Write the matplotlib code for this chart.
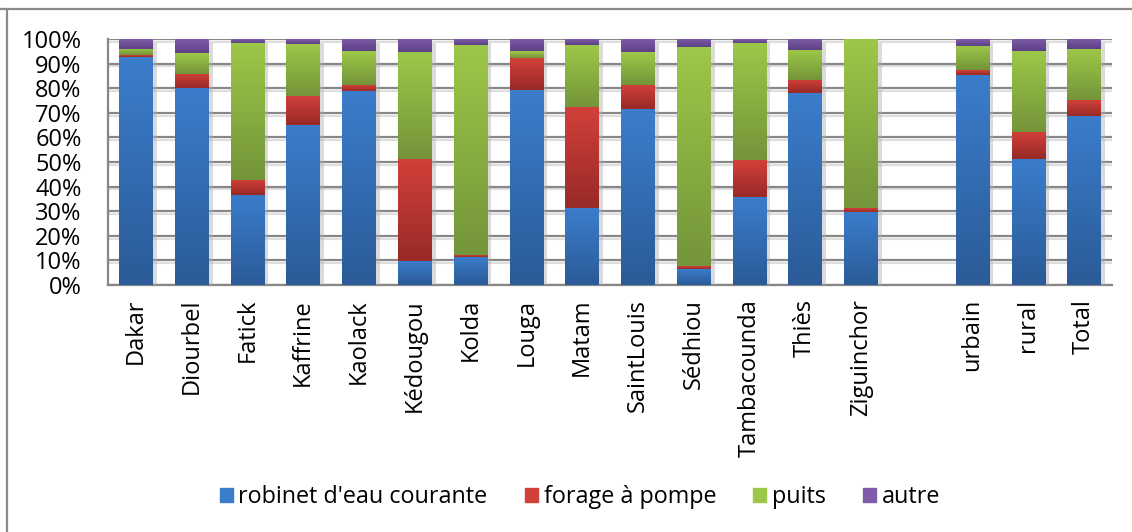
import numpy as np
import matplotlib.pyplot as plt
import matplotlib.patheffects as pe
from matplotlib.colors import LinearSegmentedColormap
from matplotlib.lines import Line2D
from matplotlib.ticker import PercentFormatter

plt.rcParams['font.family'] = ['Open Sans', 'DejaVu Sans']

regions = ["Dakar", "Diourbel", "Fatick", "Kaffrine", "Kaolack", "Kédougou",
           "Kolda", "Louga", "Matam", "SaintLouis", "Sédhiou", "Tambacounda",
           "Thiès", "Ziguinchor"]
groups = ["urbain", "rural", "Total"]

robinet = [92.5, 80.2, 36.6, 65.0, 78.9, 9.8, 11.4, 79.3, 31.3, 71.5, 6.5, 35.8, 78.0, 29.7,
           85.4, 51.2, 68.7]
forage = [0.8, 5.7, 6.1, 11.8, 2.4, 41.4, 0.8, 13.0, 41.1, 9.8, 1.2, 15.0, 5.3, 1.6,
          2.0, 11.0, 6.5]
puits = [2.7, 8.5, 55.8, 21.3, 13.8, 43.5, 85.4, 2.8, 25.2, 13.4, 89.0, 47.6, 12.2, 68.7,
         9.8, 32.9, 20.7]
autre = [4.0, 5.6, 1.5, 1.9, 4.9, 5.3, 2.4, 4.9, 2.4, 5.3, 3.3, 1.6, 4.5, 0.0,
         2.8, 4.9, 4.1]

series = [
    ("robinet d'eau courante", robinet, "#3b7dcb", "#2b5b98"),
    ("forage à pompe", forage, "#d2403a", "#982a27"),
    ("puits", puits, "#9dc748", "#74953a"),
    ("autre", autre, "#7f5caa", "#5d4284"),
]

labels = regions + groups
# one empty slot between the regions and the summary groups
x = np.array(list(range(len(regions))) + [len(regions) + 1 + i for i in range(len(groups))])

fig = plt.figure(figsize=(11.32, 5.32), dpi=100)
ax = fig.add_axes([108 / 1132, 1 - 285 / 532, (1112 - 108) / 1132, (285 - 39) / 532])

bottom = np.zeros(len(x))
handles = []
grad = np.linspace(1, 0, 64).reshape(-1, 1)
for name, vals, top_c, bot_c in series:
    vals = np.array(vals)
    bars = ax.bar(x, vals, 0.6, bottom=bottom, color=top_c, linewidth=0, zorder=3,
                  path_effects=[pe.SimplePatchShadow(offset=(3, -3), shadow_rgbFace="#b0b0b0", alpha=0.45),
                                pe.Normal()])
    cmap = LinearSegmentedColormap.from_list(name, [bot_c, top_c])
    for p in bars.patches:
        if p.get_height() <= 0:
            continue
        im = ax.imshow(grad, cmap=cmap, aspect="auto", zorder=4, interpolation="bilinear",
                       extent=(p.get_x(), p.get_x() + p.get_width(), p.get_y(), p.get_y() + p.get_height()))
        im.set_clip_path(p)
    bottom += vals
    handles.append(plt.Rectangle((0, 0), 1, 1, color=top_c))

ax.set_xlim(-0.5, len(regions) + len(groups) + 0.5)
ax.set_ylim(0, 100)
ax.set_yticks(np.arange(0, 101, 10))
ax.yaxis.set_major_formatter(PercentFormatter(decimals=0))
ax.set_xticks(x)
ax.set_xticklabels(labels, rotation=90, fontsize=17)
ax.tick_params(axis="y", which="major", labelsize=17, length=0, pad=19)
ax.tick_params(axis="x", length=0, pad=10)

ax.yaxis.grid(True, color="#878787", linewidth=1.6, zorder=1)
for gl in ax.get_ygridlines():
    gl.set_path_effects([pe.SimpleLineShadow(offset=(0, -2), shadow_color="#c8c8c8", alpha=0.6), pe.Normal()])
ax.set_axisbelow(True)

for s in ["top", "right"]:
    ax.spines[s].set_visible(False)
ax.spines["left"].set_color("#878787")
ax.spines["left"].set_linewidth(1.6)
ax.spines["bottom"].set_color("#878787")
ax.spines["bottom"].set_linewidth(1.6)

ax.legend(handles, [s[0] for s in series], loc="center", bbox_to_anchor=(580 / 1132, 1 - 497 / 532),
          bbox_transform=fig.transFigure, ncol=4, frameon=False, fontsize=16.8,
          handlelength=0.55, handleheight=0.55, handletextpad=0.25, columnspacing=1.6)

# outer chart border
fig.add_artist(Line2D([0, 1], [1 - 9 / 532, 1 - 9 / 532], transform=fig.transFigure,
                      color="#8a8a8a", linewidth=1.6))
fig.add_artist(Line2D([6.5 / 1132, 6.5 / 1132], [0, 1 - 9 / 532], transform=fig.transFigure,
                      color="#8a8a8a", linewidth=1.6))

fig.savefig("out.png", dpi=100)
plt.close(fig)
